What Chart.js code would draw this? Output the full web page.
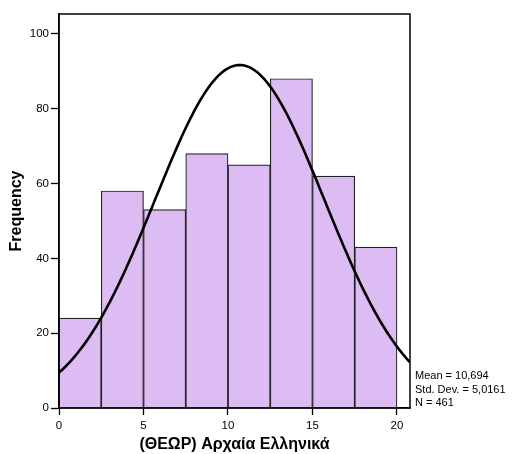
<!DOCTYPE html>
<html>
<head>
<meta charset="utf-8">
<script src="https://cdn.jsdelivr.net/npm/chart.js@4/dist/chart.umd.min.js"></script>
<style>
  html, body { margin: 0; padding: 0; background: #fff; }
  #wrap { width: 517px; height: 454px; }
</style>
</head>
<body>
<div id="wrap"><canvas id="c" width="517" height="454"></canvas></div>
<script>
// Histogram bins (lower edges) and counts
const binEdges = [0, 2.5, 5, 7.5, 10, 12.5, 15, 17.5];
const binWidth = 2.5;
const counts = [24, 58, 53, 68, 65, 88, 62, 43];
const xTicks = [0, 5, 10, 15, 20];
const yTicks = [0, 20, 40, 60, 80, 100];

// Summary statistics printed beside the plot
const statMean = 10.694;
const statSD = 5.0161;
const statN = 461;
const statLabels = ['Mean = 10,694', 'Std. Dev. = 5,0161', 'N = 461'];

const xMin = 0, xMax = 20.77, yMax = 105.3;

const barData = counts.map((c, i) => ({ x: binEdges[i] + binWidth / 2, y: c }));

// Fitted normal curve scaled to the histogram (N * bin width)
const curveData = [];
for (let k = 0; k <= 200; k++) {
  const x = xMin + (xMax - xMin) * k / 200;
  const z = (x - statMean) / statSD;
  const y = statN * binWidth / (statSD * Math.sqrt(2 * Math.PI)) * Math.exp(-0.5 * z * z);
  curveData.push({ x, y });
}

const boxPlugin = {
  id: 'box',
  afterDraw(chart) {
    const { ctx, chartArea: a } = chart;
    ctx.save();
    ctx.strokeStyle = '#000';
    ctx.lineWidth = 1.5;
    ctx.strokeRect(a.left, a.top, a.right - a.left, a.bottom - a.top);
    ctx.fillStyle = '#000';
    ctx.font = '11px "Liberation Sans", Arial, sans-serif';
    ctx.textAlign = 'left';
    ctx.textBaseline = 'middle';
    statLabels.forEach((t, i) => ctx.fillText(t, a.right + 5, 376 + i * 13.5));
    ctx.restore();
  }
};

Chart.defaults.font.family = '"Liberation Sans", Arial, sans-serif';
Chart.defaults.color = '#000';

new Chart(document.getElementById('c'), {
  type: 'bar',
  data: {
    datasets: [
      {
        type: 'line',
        data: curveData,
        borderColor: '#000',
        borderWidth: 2.6,
        pointRadius: 0,
        tension: 0,
        fill: false,
        order: 0
      },
      {
        type: 'bar',
        data: barData,
        backgroundColor: '#dcbcf2',
        borderColor: '#222',
        borderWidth: 1.2,
        barPercentage: 1,
        categoryPercentage: 1,
        order: 1
      }
    ]
  },
  options: {
    responsive: false,
    animation: false,
    events: [],
    layout: { padding: { top: 14, right: 107, left: 0, bottom: 0 } },
    plugins: { legend: { display: false }, tooltip: { enabled: false } },
    scales: {
      x: {
        type: 'linear',
        min: xMin,
        max: xMax,
        offset: false,
        afterBuildTicks(s) { s.ticks = xTicks.map(v => ({ value: v })); },
        afterFit(s) { s.height = 46; },
        grid: { offset: false, drawOnChartArea: false, tickLength: 7, tickColor: '#000', tickWidth: 1.3 },
        border: { color: '#000', width: 1.5 },
        ticks: { font: { size: 11.5 }, padding: 4, maxRotation: 0, autoSkip: false },
        title: {
          display: true,
          text: '(ΘΕΩΡ) Αρχαία Ελληνικά',
          font: { size: 16, weight: 'bold' },
          padding: { top: 2, bottom: 0 }
        }
      },
      y: {
        type: 'linear',
        min: 0,
        max: yMax,
        afterBuildTicks(s) { s.ticks = yTicks.map(v => ({ value: v })); },
        afterFit(s) { s.width = 59; },
        grid: { offset: false, drawOnChartArea: false, tickLength: 8, tickColor: '#000', tickWidth: 1.3 },
        border: { color: '#000', width: 1.5 },
        ticks: { font: { size: 11.5 }, padding: 2 },
        title: {
          display: true,
          text: 'Frequency',
          font: { size: 16, weight: 'bold' },
          padding: { top: 7, bottom: 0 }
        }
      }
    }
  },
  plugins: [boxPlugin]
});
</script>
</body>
</html>
